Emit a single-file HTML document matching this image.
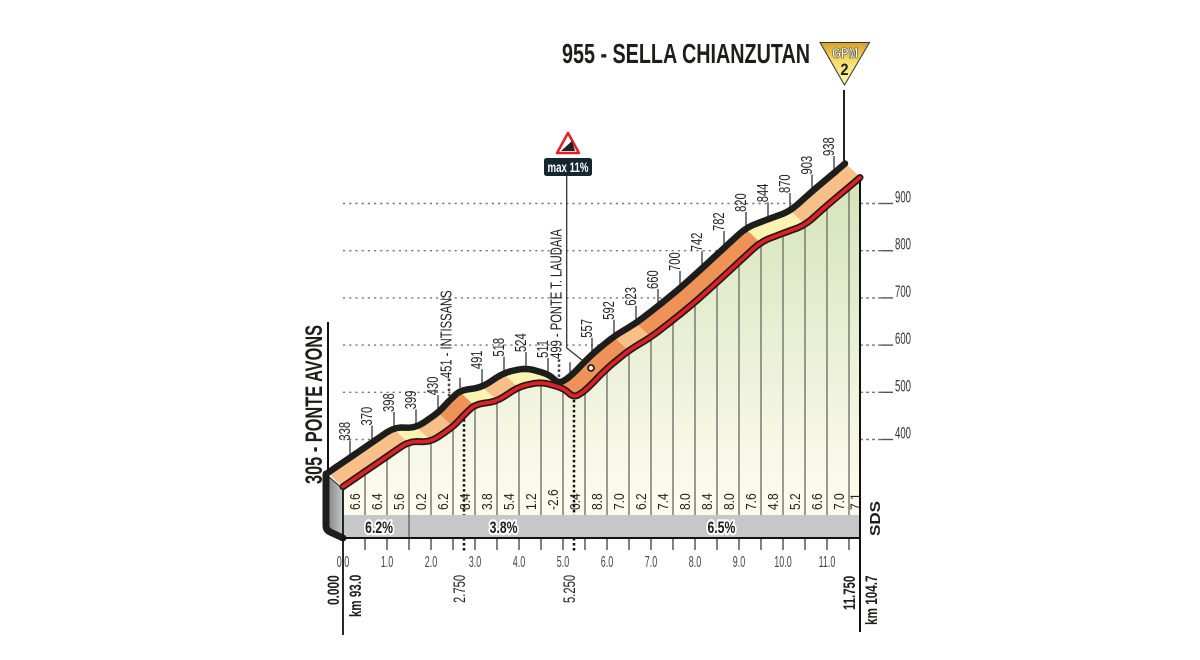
<!DOCTYPE html>
<html>
<head>
<meta charset="utf-8">
<title>Sella Chianzutan climb profile</title>
<style>
html,body{margin:0;padding:0;background:#fff;}
svg{display:block;}
text{font-family:"Liberation Sans",sans-serif;}
</style>
</head>
<body>
<svg id="chart" width="1200" height="660" viewBox="0 0 1200 660" xmlns="http://www.w3.org/2000/svg">
<defs>
<linearGradient id="fillGrad" gradientUnits="userSpaceOnUse" x1="0" y1="190" x2="0" y2="505">
<stop offset="0" stop-color="#d6e4bb"/><stop offset=".5" stop-color="#eaf0d6"/><stop offset="1" stop-color="#fdfbee"/>
</linearGradient>
<linearGradient id="sideGrad" x1="0" y1="0" x2="1" y2="0">
<stop offset="0" stop-color="#86878a"/><stop offset="1" stop-color="#c6c7c9"/>
</linearGradient>
<linearGradient id="gpmGrad" x1="0" y1="0" x2="0" y2="1">
<stop offset="0" stop-color="#d8a02c"/><stop offset=".45" stop-color="#f3df6a"/><stop offset="1" stop-color="#fdf8b0"/>
</linearGradient>
</defs>
<rect width="1200" height="660" fill="#fff"/>
<g id="grid"></g>
<g id="fills"></g>
<g id="columns"></g>
<rect x="343" y="515" width="517" height="23" fill="#c6c7c9"/>
<g id="lowerTicks"></g>
<g id="upperTicks"></g>
<line x1="566.7" y1="176" x2="566.7" y2="348" stroke="#333" stroke-width="1.3"/>
<line x1="566.7" y1="348" x2="582" y2="360" stroke="#333" stroke-width="1.3"/>
<polygon points="328,476 343,489 343,537 328,527" fill="url(#sideGrad)" stroke="#222" stroke-width="1"/>
<g id="road"></g>
<path d="M326,474 L326,526 Q326,530 330,532 L343,538" fill="none" stroke="#1d1d1b" stroke-width="7" stroke-linejoin="round" stroke-linecap="round"/>
<g id="labels"></g>
<line x1="343" y1="490" x2="343" y2="635" stroke="#111" stroke-width="1.8"/>
<line x1="860" y1="180" x2="860" y2="632" stroke="#111" stroke-width="2"/>
<line x1="343" y1="538" x2="860" y2="538" stroke="#111" stroke-width="2"/>
<line x1="328" y1="322" x2="328" y2="470" stroke="#111" stroke-width="2"/>
<text x="562" y="63" font-size="28" font-weight="700" fill="#1d1d1b" textLength="248" lengthAdjust="spacingAndGlyphs">955 - SELLA CHIANZUTAN</text>
<text transform="translate(322,484) rotate(-90)" font-size="24" font-weight="700" fill="#1d1d1b" textLength="159" lengthAdjust="spacingAndGlyphs">305 - PONTE AVONS</text>
<line x1="844" y1="90" x2="844" y2="165" stroke="#222" stroke-width="2"/>
<polygon points="820,42.5 869.5,42.5 844.5,85" fill="url(#gpmGrad)" stroke="#333" stroke-width="1"/>
<text x="845" y="58" text-anchor="middle" font-size="15" font-weight="700" fill="#fff" stroke="#333" stroke-width=".6" textLength="26" lengthAdjust="spacingAndGlyphs">GPM</text>
<text x="844.5" y="75" text-anchor="middle" font-size="17" font-weight="700" fill="#1d1d1b" textLength="8" lengthAdjust="spacingAndGlyphs">2</text>
<polygon points="568,133 579,153 557,153" fill="#fff" stroke="#e31e24" stroke-width="2.5" stroke-linejoin="round"/>
<polygon points="561,151 575,151 572,141" fill="#222"/>
<rect x="544" y="158" width="48" height="18" rx="2.5" fill="#14262e"/>
<text x="568" y="172" text-anchor="middle" font-size="14" font-weight="700" fill="#fff" textLength="41" lengthAdjust="spacingAndGlyphs">max 11%</text>
<circle cx="591" cy="368" r="3" fill="#fff" stroke="#111" stroke-width="1.6"/>
<text transform="translate(880,536) rotate(-90)" font-size="15" font-weight="700" fill="#1d1d1b" textLength="35" lengthAdjust="spacingAndGlyphs">SDS</text>
</svg>
<script>
const kmMarks = [0,0.5,1,1.5,2,2.5,2.75,3,3.5,4,4.5,5,5.25,5.5,6,6.5,7,7.5,8,8.5,9,9.5,10,10.5,11,11.5,11.75];
const elevations = [300,332,364,396,395,427,452,474,481,512,522,509,489,503,551,589,617,653,691,733,776,819,837,854,896,935,955];
const elevationLabels = ['', '338','370','398','399','430','451 - INTISSANS','', '491','518','524','511','499 - PONTE T. LAUDAIA','', '557','592','623','660','700','742','782','820','844','870','903','938',''];
const gradientStarts = [0,0.5,1,1.5,2,2.5,3,3.5,4,4.5,5,5.5,6,6.5,7,7.5,8,8.5,9,9.5,10,10.5,11,11.5];
const gradientEnds = [0.5,1,1.5,2,2.5,3,3.5,4,4.5,5,5.5,6,6.5,7,7.5,8,8.5,9,9.5,10,10.5,11,11.5,11.75];
const gradientValues = ['6.6','6.4','5.6','0.2','6.2','8.4','3.8','5.4','1.2','-2.6','0.4','8.8','7.0','6.2','7.4','8.0','8.4','8.0','7.6','4.8','5.2','6.6','7.0','7.1'];
const gradientClasses = ['mid','mid','mid','low','mid','high','low','mid','low','low','high','high','high','mid','high','high','high','high','high','low','low','mid','mid','mid'];
const elevationTicks = [900,800,700,600,500,400];
const distanceTicks = [0,1,2,3,4,5,6,7,8,9,10,11];
const distanceMinorTicks = [0.5,1,1.5,2,2.5,3,3.5,4,4.5,5,5.5,6,6.5,7,7.5,8,8.5,9,9.5,10,10.5,11,11.5];
const sectionEnds = [1.5,5.25,11.75];
const sectionLabels = ['6.2%','3.8%','6.5%'];
const sectionCenters = [0.82,3.65,8.6];
const dottedKm = [2.75,5.25];
const dottedLabels = ['2.750','5.250'];

const NS = 'http://www.w3.org/2000/svg';
const bandColors = {low:'#fdf3b0', mid:'#f8c088', high:'#ee9258'};
const ridgeDx = -15, ridgeDy = -14;
function xScale(km){ return 343 + km * 44; }
function yScale(e){ return 203.5 + (900 - e) * 0.472; }

/* corner-rounded profile built from the data */
let dense = kmMarks.map(function(k, i){ return [xScale(k), yScale(elevations[i])]; });
for (let it = 0; it < 2; it++) {
  const next = [dense[0]];
  for (let i = 0; i < dense.length - 1; i++) {
    const a = dense[i], b = dense[i + 1];
    next.push([a[0]*.8 + b[0]*.2, a[1]*.8 + b[1]*.2]);
    next.push([a[0]*.2 + b[0]*.8, a[1]*.2 + b[1]*.8]);
  }
  next.push(dense[dense.length - 1]);
  dense = next;
}
function yAtX(x){
  for (let i = 0; i < dense.length - 1; i++) {
    if (x <= dense[i + 1][0]) {
      const a = dense[i], b = dense[i + 1];
      const t = (b[0] - a[0]) ? (x - a[0]) / (b[0] - a[0]) : 0;
      return a[1] + (b[1] - a[1]) * t;
    }
  }
  return dense[dense.length - 1][1];
}
function mk(parent, tag, attrs, txt){
  const el = document.createElementNS(NS, tag);
  for (const k in attrs) el.setAttribute(k, attrs[k]);
  if (txt !== undefined) el.textContent = txt;
  document.getElementById(parent).appendChild(el);
  return el;
}
function rot(parent, x, y, str, size, weight, fill, sx){
  return mk(parent, 'text', {transform:'translate(' + x + ',' + y + ') rotate(-90) scale(' + sx + ',1)', 'font-size':size, 'font-weight':weight, fill:fill}, str);
}
let el;

/* elevation grid */
elevationTicks.forEach(function(t){
  const y = yScale(t);
  el = mk('grid', 'line', {x1:343, y1:y, x2:860, y2:y, stroke:'#777', 'stroke-width':1.4, 'stroke-dasharray':'2.2 4'});
  
  
  el = mk('grid', 'line', {x1:860, y1:y, x2:881, y2:y, stroke:'#777', 'stroke-width':1.4, 'stroke-dasharray':'3 3'});
  
  
  el = mk('grid', 'line', {x1:881, y1:y, x2:893, y2:y, stroke:'#555', 'stroke-width':1.4});
  
  
  el = mk('labels', 'text', {transform:'translate(895,' + (y - 1) + ') scale(.58,1)', 'font-size':16.5, fill:'#333'}, String(t));
  
  
});

/* area under profile */
let areaPts = xScale(0) + ',515 ';
dense.forEach(function(p){ areaPts += p[0] + ',' + p[1] + ' '; });
areaPts += xScale(11.75) + ',515';
el = mk('fills', 'polygon', {points:areaPts, fill:'url(#fillGrad)'});



/* vertical column lines and lower ticks */
distanceMinorTicks.forEach(function(k){
  const x = xScale(k);
  el = mk('columns', 'line', {x1:x, y1:yAtX(x), x2:x, y2:515, stroke:'#7a7a72', 'stroke-width':1.5});
  
  
  el = mk('lowerTicks', 'line', {x1:x, y1:538, x2:x, y2:550, stroke:'#555', 'stroke-width':1.5});
  
  
});

/* section separator and labels on the strip */
sectionEnds.slice(0, 1).forEach(function(k){
  el = mk('lowerTicks', 'line', {x1:xScale(k), y1:515, x2:xScale(k), y2:538, stroke:'#555', 'stroke-width':1.2});
  
  
});
sectionLabels.forEach(function(s, i){
  el = mk('labels', 'text', {transform:'translate(' + xScale(sectionCenters[i]) + ',533) scale(.72,1)', 'text-anchor':'middle', 'font-size':17, 'font-weight':700, fill:'#1d1d1b', stroke:'#fff', 'stroke-width':4.5, 'paint-order':'stroke', 'stroke-linejoin':'round'}, s);
  
  
});

/* coloured road band */
gradientValues.forEach(function(v, i){
  const ax = xScale(gradientStarts[i]), bx = xScale(gradientEnds[i]);
  const low = [], high = [];
  for (let x = ax; x <= bx; x += 1) {
    low.push(x + ',' + yAtX(x));
    high.unshift((x + ridgeDx) + ',' + (yAtX(x) + ridgeDy));
  }
  el = mk('road', 'polygon', {points:low.concat(high).join(' '), fill:bandColors[gradientClasses[i]], stroke:bandColors[gradientClasses[i]], 'stroke-width':.6});
  
  
});

/* ridge + red line */
let ridgePts = '', redPts = '';
dense.forEach(function(p){
  ridgePts += (p[0] + ridgeDx) + ',' + (p[1] + ridgeDy) + ' ';
  redPts += p[0] + ',' + p[1] + ' ';
});
el = mk('road', 'polyline', {points:ridgePts, fill:'none', stroke:'#1d1d1b', 'stroke-width':6.5, 'stroke-linejoin':'round', 'stroke-linecap':'round'});


el = mk('road', 'polyline', {points:redPts, fill:'none', stroke:'#1d1d1b', 'stroke-width':7, 'stroke-linejoin':'round', 'stroke-linecap':'round'});


el = mk('road', 'polyline', {points:redPts, fill:'none', stroke:'#e31e24', 'stroke-width':3.6, 'stroke-linejoin':'round', 'stroke-linecap':'round'});



/* ridge ticks + elevation labels */
elevationLabels.forEach(function(lab, i){
  const k = kmMarks[i];
  if (k === 0 || k === 11.75) return;
  const tx = xScale(k) + ridgeDx, ry = yAtX(xScale(k)) + ridgeDy;
  const named = lab.length > 3;
  const gap = named ? 23 : 17;
  const isDot = k === 2.75 || k === 5.25;
  el = mk('upperTicks', 'line', {x1:tx, y1:ry, x2:tx, y2:ry - (lab ? gap : 14), stroke:'#444', 'stroke-width':isDot ? 2.5 : 1.4, 'stroke-dasharray':isDot ? '2.5 2.5' : 'none'});
  
  
  if (lab) {
    el = rot('labels', tx + (named ? 2.5 : 0), ry - gap, lab, 16, 400, '#222', .7);
    
    
  }
});

/* dotted markers */
dottedKm.forEach(function(k, i){
  const x = xScale(k), y0 = yAtX(x) + 4;
  el = mk('lowerTicks', 'line', {x1:x, y1:y0, x2:x, y2:515, stroke:'#111', 'stroke-width':2.5, 'stroke-dasharray':'2.5 2.5'});
  
  
  el = mk('lowerTicks', 'line', {x1:x, y1:538, x2:x, y2:552, stroke:'#111', 'stroke-width':2.5, 'stroke-dasharray':'2.5 2.5'});
  
  
  el = rot('labels', x + 1, 603, dottedLabels[i], 16.5, 400, '#222', .68);
  
  
});

/* gradient values */
gradientValues.forEach(function(v, i){
  const mid = (gradientStarts[i] + gradientEnds[i]) / 2;
  el = rot('labels', xScale(mid) + 6, 510, v, 15, 400, '#222', .8);
  
  
});

/* distance labels */
distanceTicks.forEach(function(k){
  el = mk('labels', 'text', {transform:'translate(' + xScale(k) + ',567) scale(.56,1)', 'text-anchor':'middle', 'font-size':16, fill:'#444'}, k.toFixed(1));
  
  
});

el = rot('labels', 339, 605, '0.000', 17, 700, '#1d1d1b', .7);


el = rot('labels', 361, 617, 'km 93.0', 17, 700, '#1d1d1b', .68);


el = rot('labels', 855, 610, '11.750', 17, 700, '#1d1d1b', .67);


el = rot('labels', 877, 625, 'km 104.7', 17, 700, '#1d1d1b', .69);


</script>
</body>
</html>
